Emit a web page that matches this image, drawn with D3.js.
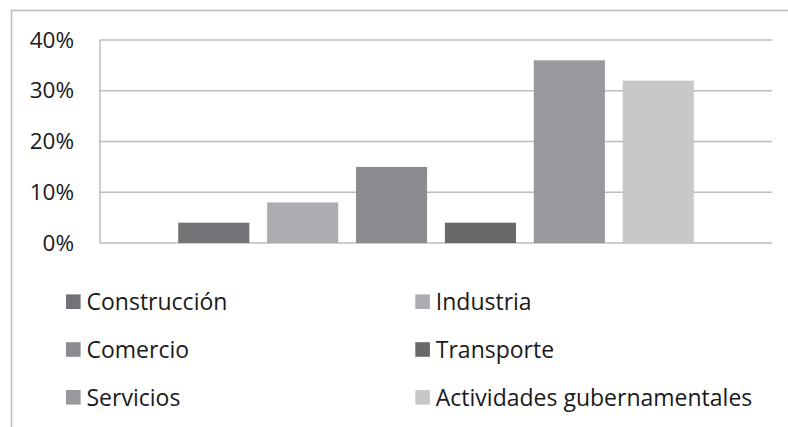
<!DOCTYPE html>
<html>
<head>
<meta charset="utf-8">
<script src="https://cdn.jsdelivr.net/npm/d3@7"></script>
<style>
  body { margin: 0; background: #fff; }
  svg { display: block; font-family: "Open Sans", "Noto Sans", sans-serif; }
</style>
</head>
<body>
<div id="chart"></div>
<script>
var series = ["Construcción", "Industria", "Comercio", "Transporte", "Servicios", "Actividades gubernamentales"]
var values = [4, 8, 15, 4, 36, 32]
var colors = ["#737377", "#acadb0", "#8b8c90", "#69696b", "#98999d", "#c7c8ca"]
var yTicks = [0, 10, 20, 30, 40]

var W = 788, H = 427
var margin = {top: 40, right: 16, bottom: 184, left: 100}
var width = W - margin.left - margin.right
var height = H - margin.top - margin.bottom

var svg = d3.select("#chart").append("svg")
    .attr("width", W)
    .attr("height", H)

// outer frame (cropped at right and bottom)
svg.append("path")
    .attr("d", "M11.5," + H + "V10.5H" + W)
    .attr("fill", "none")
    .attr("stroke", "#bcbcbc")
    .attr("stroke-width", 1.5)

var g = svg.append("g")
    .attr("transform", "translate(" + margin.left + "," + margin.top + ")")

var x = d3.scaleBand()
    .domain(series)
    .range([0, width])
    .paddingInner(0.2)
    .paddingOuter(0.88)

var y = d3.scaleLinear()
    .domain([0, 40])
    .range([height, 0])

// gridlines
g.selectAll(".grid")
    .data(yTicks)
    .enter().append("line")
    .attr("x1", 0)
    .attr("x2", width)
    .attr("y1", function(d) { return y(d) })
    .attr("y2", function(d) { return y(d) })
    .attr("stroke", "#bcbcbc")
    .attr("stroke-width", 1.5)

// left axis line
g.append("line")
    .attr("x1", 0).attr("x2", 0)
    .attr("y1", 0).attr("y2", height)
    .attr("stroke", "#bcbcbc")
    .attr("stroke-width", 1.5)

var yAxis = g.append("g")
    .call(d3.axisLeft(y).tickValues(yTicks).tickSize(0).tickPadding(26)
        .tickFormat(function(d) { return d + "%" }))
yAxis.select(".domain").remove()
yAxis.selectAll("text")
    .attr("font-size", 22.5)
    .attr("font-family", "Open Sans, Noto Sans, sans-serif")
    .attr("fill", "#1a1a1a")

// bars
g.selectAll(".bar")
    .data(values)
    .enter().append("rect")
    .attr("x", function(d, i) { return x(series[i]) })
    .attr("width", x.bandwidth())
    .attr("y", function(d) { return y(d) })
    .attr("height", function(d) { return height - y(d) })
    .attr("fill", function(d, i) { return colors[i] })

// legend, 2 columns x 3 rows
var legend = svg.append("g")
var item = legend.selectAll(".item")
    .data(series)
    .enter().append("g")
    .attr("transform", function(d, i) {
        var col = i % 2, row = Math.floor(i / 2)
        return "translate(" + (66 + col * 349.3) + "," + (301.7 + row * 47.8) + ")"
    })
item.append("rect")
    .attr("x", 0).attr("y", -7.3)
    .attr("width", 14.6).attr("height", 14.6)
    .attr("fill", function(d, i) { return colors[i] })
item.append("text")
    .attr("x", 20.5)
    .attr("dy", "0.36em")
    .attr("font-size", 23)
    .attr("fill", "#1a1a1a")
    .text(function(d) { return d })
</script>
</body>
</html>
